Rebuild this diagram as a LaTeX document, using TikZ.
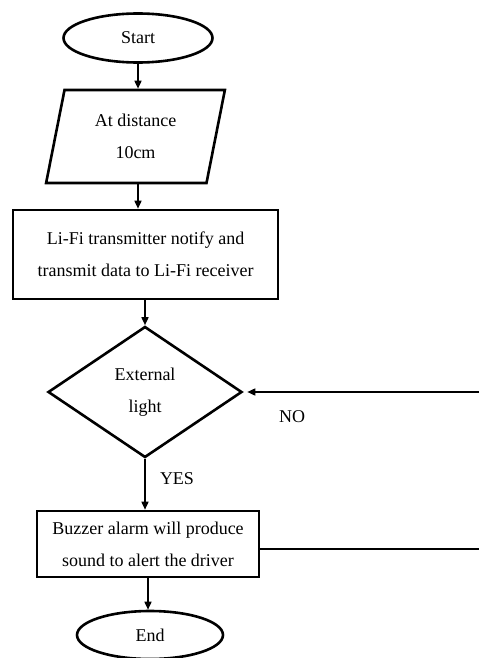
\documentclass[tikz,border=0pt]{standalone}
\usepackage{fontspec}
\setmainfont{Liberation Serif}
\usetikzlibrary{arrows.meta,shapes.geometric}

\begin{document}
\begin{tikzpicture}[x=1pt, y=-1pt, >={Triangle[length=8pt,width=7pt]}, line width=2.6pt,
  font=\fontsize{18}{32}\selectfont,
  term/.style={draw, ellipse, inner sep=0pt},
  io/.style={draw, trapezium, trapezium left angle=76.7, trapezium right angle=103.3,
    trapezium stretches=true, align=center, inner sep=0pt},
  proc/.style={draw, rectangle, align=center, inner sep=0pt},
  decide/.style={draw, diamond, aspect=1.48, align=center, inner sep=0pt},
  link/.style={->, line width=1.6pt}]
  \useasboundingbox (0,0) rectangle (479,658);
  \node[term, minimum width=149pt, minimum height=49pt] (start) at (138,38) {Start};
  \node[io, minimum width=179pt, minimum height=93pt] (dist) at (135.5,136.5) {At distance\\10cm};
  \node[proc, minimum width=265pt, minimum height=89pt] (lifi) at (145.5,254.5)
    {Li-Fi transmitter notify and\\transmit data to Li-Fi receiver};
  \node[decide, minimum width=194pt, minimum height=131pt] (light) at (145,392) {External\\light};
  \node[proc, minimum width=222pt, minimum height=66pt] (buzz) at (148,544)
    {Buzzer alarm will produce\\sound to alert the driver};
  \node[term, minimum width=146pt, minimum height=48pt] (end) at (150,635) {End};
  \coordinate (noin) at (479,392);
  \coordinate (buzzout) at (479,549);
  \draw[link] (start.south) -- (start.south |- dist.north);
  \draw[link] (start.south |- dist.south) -- (start.south |- lifi.north);
  \draw[link] (light.north |- lifi.south) -- (light.north);
  \draw[link] (light.south) -- (light.south |- buzz.north);
  \draw[link] (buzz.south) -- (buzz.south |- end.north);
  \draw[link, shorten >=4pt] (noin) -- (light.east);
  \draw[line width=1.6pt] (buzz.east |- buzzout) -- (buzzout);
  \node at (292,417) {NO};
  \node at (177,479) {YES};
\end{tikzpicture}
\end{document}
